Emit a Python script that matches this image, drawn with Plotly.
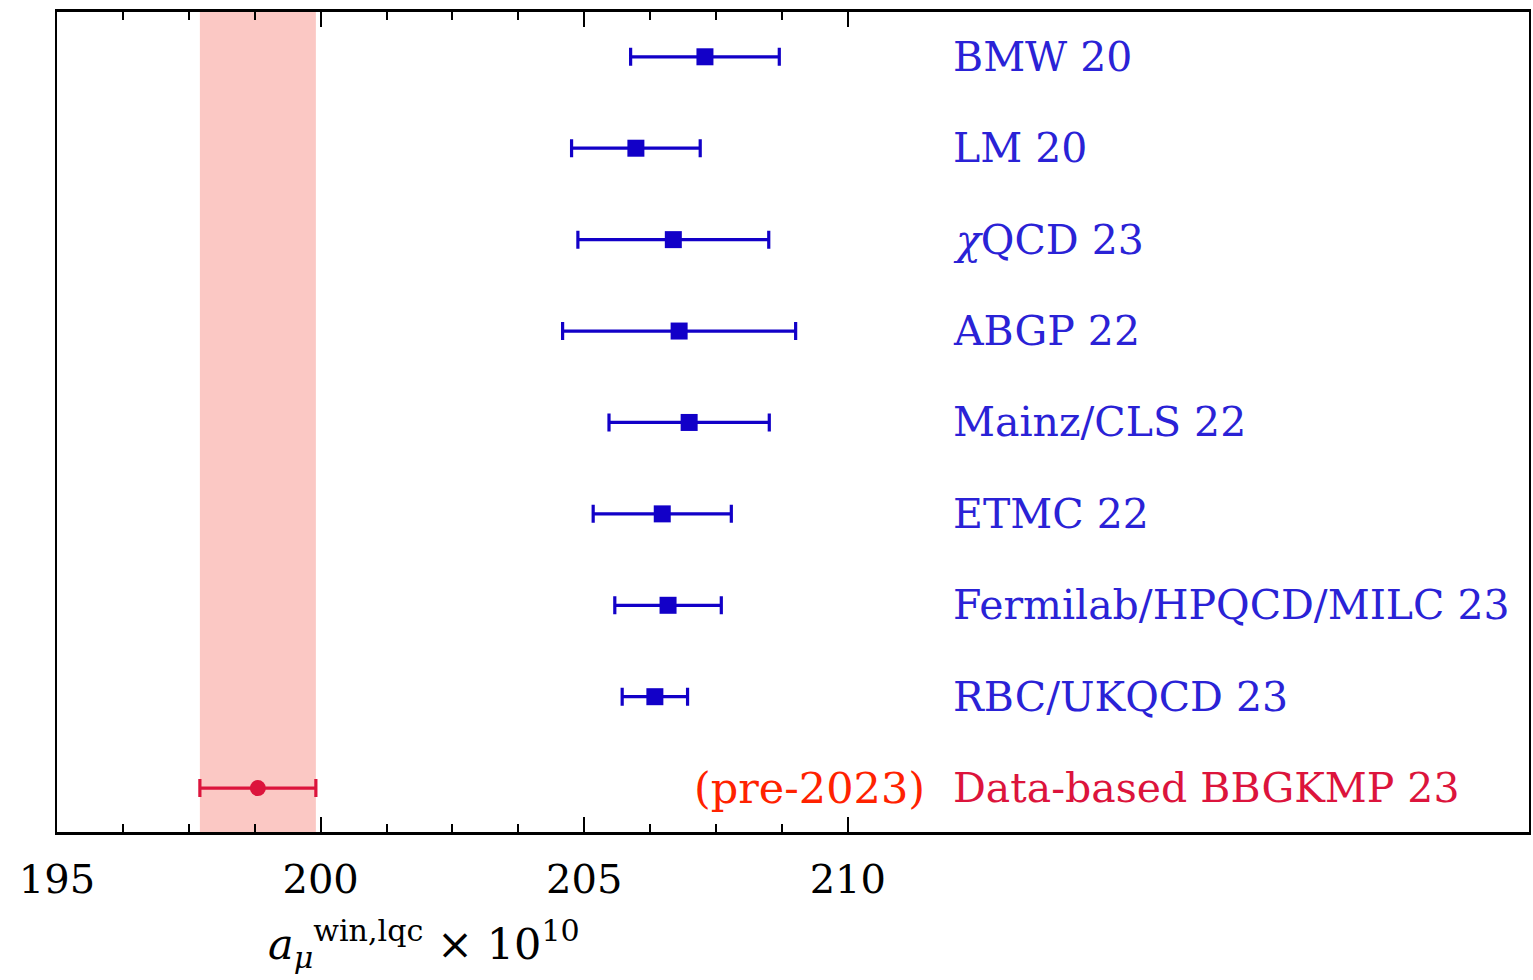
import plotly.graph_objects as go

labels = ["BMW 20", "LM 20", "<i>χ</i>QCD 23", "ABGP 22", "Mainz/CLS 22", "ETMC 22",
          "Fermilab/HPQCD/MILC 23", "RBC/UKQCD 23"]
values = [207.29, 205.98, 206.69, 206.80, 206.99, 206.48, 206.59, 206.34]
errors = [1.41, 1.22, 1.81, 2.21, 1.52, 1.31, 1.01, 0.62]
ypos = [9, 8, 7, 6, 5, 4, 3, 2]

data_label = "Data-based BBGKMP 23"
data_value = 198.81
data_error = 1.10
data_y = 1

xticks = [195, 200, 205, 210]
minor_ticks = [196.25, 197.5, 198.75, 201.25, 202.5, 203.75, 206.25, 207.5, 208.75]

BLUE = "#1200c8"
LBLUE = "#2a22d6"
RED = "#dc143c"
FONT = "DejaVu Serif"

fig = go.Figure()

fig.add_vrect(x0=data_value - data_error, x1=data_value + data_error,
              fillcolor="#fbc8c4", line_width=0, layer="below")

fig.add_trace(go.Scatter(
    x=values, y=ypos, mode="markers",
    marker=dict(symbol="square", size=17, color=BLUE),
    error_x=dict(type="data", array=errors, color=BLUE, thickness=3.2, width=9),
    showlegend=False))

fig.add_trace(go.Scatter(
    x=[data_value], y=[data_y], mode="markers",
    marker=dict(symbol="circle", size=16, color=RED),
    error_x=dict(type="data", array=[data_error], color=RED, thickness=3.2, width=9),
    showlegend=False))

for lab, y in zip(labels, ypos):
    fig.add_annotation(x=211.95, y=y, text=lab, showarrow=False, xanchor="left",
                       yanchor="middle", font=dict(family=FONT, size=41, color=LBLUE))
fig.add_annotation(x=211.95, y=data_y, text=data_label, showarrow=False, xanchor="left",
                   yanchor="middle", font=dict(family=FONT, size=41, color=RED))
fig.add_annotation(x=211.5, y=data_y, text="(pre-2023)", showarrow=False, xanchor="right",
                   yanchor="middle", font=dict(family=FONT, size=43, color="#ff2200"))

fig.add_annotation(x=201.97, y=-0.137, yref="paper", xref="x",
                   text="<i>a</i><sub><i>μ</i></sub><sup>win,lqc</sup> × 10<sup>10</sup>",
                   showarrow=False, xanchor="center", yanchor="middle",
                   font=dict(family=FONT, size=43, color="black"))

fig.update_xaxes(range=[195, 222.92], tickvals=xticks, ticktext=[str(t) for t in xticks],
                 ticks="inside", ticklen=15, tickwidth=2, tickcolor="black",
                 minor=dict(tickvals=minor_ticks, ticks="inside", ticklen=8, tickwidth=2,
                            tickcolor="black"),
                 showline=True, linewidth=3, linecolor="black", mirror="ticks",
                 showgrid=False, zeroline=False, ticklabelstandoff=10,
                 tickfont=dict(family=FONT, size=40, color="black"))
fig.update_yaxes(range=[0.52, 9.49], showticklabels=False, ticks="",
                 showline=True, linewidth=2, linecolor="black", mirror=True,
                 showgrid=False, zeroline=False)

fig.update_layout(width=1533, height=980, margin=dict(l=57, r=2, t=12, b=148),
                  plot_bgcolor="white", paper_bgcolor="white")

fig.write_html("out.html")
